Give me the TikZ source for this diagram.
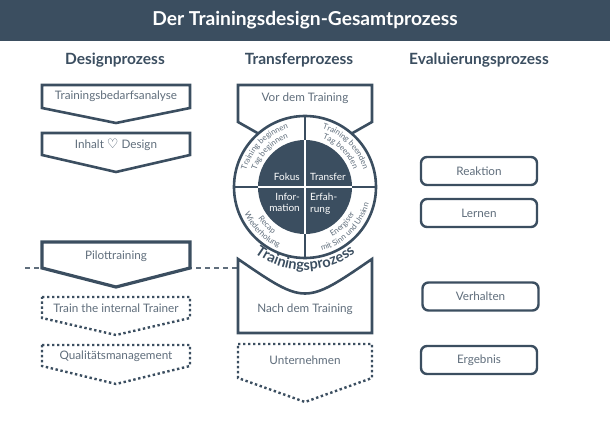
\documentclass[tikz,border=0pt]{standalone}
\usepackage{fontspec}
\setmainfont{Lato}
\newfontfamily\heartfont{DejaVu Sans}
\definecolor{slate1}{RGB}{59, 78, 96}
\definecolor{grey1}{RGB}{96, 110, 124}
\usetikzlibrary{decorations.text}

\begin{document}
\begin{tikzpicture}[x=1pt, y=1pt,
  solidbox/.style={draw=slate1, line width=2.6pt, fill=white},
  dotbox/.style={draw=slate1, line width=2.4pt, fill=white, dash pattern=on 2.4pt off 2.6pt},
  evalbox/.style={draw=slate1, line width=2.4pt, fill=white, rounded corners=6pt, minimum width=116pt, minimum height=28pt, text=grey1, font=\fontsize{11.7}{13}\selectfont},
  boxtext/.style={text=grey1, font=\fontsize{11.7}{13}\selectfont},
  headtext/.style={text=slate1, font=\fontsize{15.5}{18}\bfseries},
  innertext/.style={text=white, font=\fontsize{10}{11.5}\selectfont, inner sep=0pt},
  ringtext/.style={decorate, decoration={text along path, text align=center, text color=grey1}}
]
  \useasboundingbox (0,0) rectangle (610,431);

  % Title
  \fill[slate1] (0,390) rectangle (610,431);
  \node[text=white, font=\fontsize{19.2}{22}\bfseries] (title) at (305,411) {Der Trainingsdesign-Gesamtprozess};

  % Column headings
  \node[headtext] (designhead) at (115,371) {Designprozess};
  \node[headtext] (transferhead) at (299,371) {Transferprozess};
  \node[headtext] (evalhead) at (479,371) {Evaluierungsprozess};

  % Dashed line
  \coordinate (dashL) at (25,163);
  \coordinate (dashR) at (238,163);
  \draw[grey1, line width=1.3pt, dash pattern=on 5pt off 4pt] (dashL) -- (dashR);

  % Designprozess
  \draw[solidbox] (42,346) -- (190,346) -- (190,323) -- (116,308) -- (42,323) -- cycle;
  \node[boxtext] (bedarf) at (116,334.5) {Trainingsbedarfsanalyse};

  \draw[solidbox] (42,298) -- (190,298) -- (190,276) -- (116,259) -- (42,276) -- cycle;
  \node[boxtext] (inhalt) at (116,286) {Inhalt {\heartfont\color{slate1}\fontsize{13}{13}\selectfont ♡} Design};

  \draw[solidbox, line width=3.2pt] (42,189) -- (190,189) -- (190,163) -- (116,144) -- (42,163) -- cycle;
  \node[boxtext] (pilot) at (116,175) {Pilottraining};

  \draw[dotbox] (42,134) -- (190,134) -- (190,113) -- (116,96) -- (42,113) -- cycle;
  \node[boxtext] (ittrainer) at (116,122.5) {Train the internal Trainer};

  \draw[dotbox] (42,86) -- (190,86) -- (190,65) -- (116,47) -- (42,65) -- cycle;
  \node[boxtext] (quali) at (116,74.5) {Qualitätsmanagement};

  % Transferprozess
  \draw[solidbox] (238,346) -- (372,346) -- (372,309) -- (305,271) -- (238,309) -- cycle;
  \node[boxtext] (vor) at (305,333) {Vor dem Training};

  \draw[solidbox] (238,172) .. controls (305,126) .. (372,172) -- (372,98) -- (238,98) -- cycle;
  \node[boxtext] (nach) at (305,122) {Nach dem Training};

  \draw[dotbox] (238,87) -- (372,87) -- (372,53) -- (305,29) -- (238,53) -- cycle;
  \node[boxtext] (unternehmen) at (305,71) {Unternehmen};

  % Trainingsprozess circle
  \coordinate (ringc) at (305,244);
  \draw[solidbox] (ringc) circle[radius=71];
  \draw[slate1, line width=2pt] (ringc) ++(-71,0) -- ++(142,0);
  \draw[slate1, line width=2pt] (ringc) ++(0,-71) -- ++(0,142);
  \fill[slate1] (ringc) circle[radius=47];
  \draw[white, line width=2pt] (ringc) ++(-47,0) -- ++(94,0);
  \draw[white, line width=2pt] (ringc) ++(0,-47) -- ++(0,94);

  \node[innertext, anchor=base east] (fokus) at (300,250) {Fokus};
  \node[innertext, anchor=base west] (transfer) at (310,250) {Transfer};
  \node[innertext, anchor=north east, align=right] (information) at (300,238) {Infor-\\mation};
  \node[innertext, anchor=north west, align=left] (erfahrung) at (310,238) {Erfah-\\rung};

  \path[ringtext, decoration={text={|\fontsize{7.9}{9}\selectfont|Training beginnen}}] (ringc) ++(180:61) arc[start angle=180, end angle=90, radius=61];
  \path[ringtext, decoration={text={|\fontsize{7.9}{9}\selectfont|Tag beginnen}}] (ringc) ++(180:51.5) arc[start angle=180, end angle=90, radius=51.5];
  \path[ringtext, decoration={text={|\fontsize{7.9}{9}\selectfont|Training beenden}}] (ringc) ++(90:61) arc[start angle=90, end angle=0, radius=61];
  \path[ringtext, decoration={text={|\fontsize{7.9}{9}\selectfont|Tag beenden}}] (ringc) ++(90:51.5) arc[start angle=90, end angle=0, radius=51.5];
  \path[ringtext, decoration={text={|\fontsize{7.9}{9}\selectfont|Recap}}] (ringc) ++(180:56.5) arc[start angle=180, end angle=270, radius=56.5];
  \path[ringtext, decoration={text={|\fontsize{7.9}{9}\selectfont|Wiederholung}}] (ringc) ++(180:66) arc[start angle=180, end angle=270, radius=66];
  \path[ringtext, decoration={text={|\fontsize{7.9}{9}\selectfont|Energiser}}] (ringc) ++(270:56.5) arc[start angle=270, end angle=360, radius=56.5];
  \path[ringtext, decoration={text={|\fontsize{7.9}{9}\selectfont|mit Sinn und Unsinn}}] (ringc) ++(270:66) arc[start angle=270, end angle=360, radius=66];

  \path[ringtext, decoration={text color=slate1, text={|\fontsize{14.5}{16}\bfseries|Trainingsprozess}}] (ringc) ++(200:83) arc[start angle=200, end angle=340, radius=83];

  % Evaluierungsprozess
  \node[evalbox] (reaktion) at (479,260) {Reaktion};
  \node[evalbox] (lernen) at (479,218) {Lernen};
  \node[evalbox] (verhalten) at (480.5,134.5) {Verhalten};
  \node[evalbox] (ergebnis) at (479,71) {Ergebnis};
\end{tikzpicture}
\end{document}
